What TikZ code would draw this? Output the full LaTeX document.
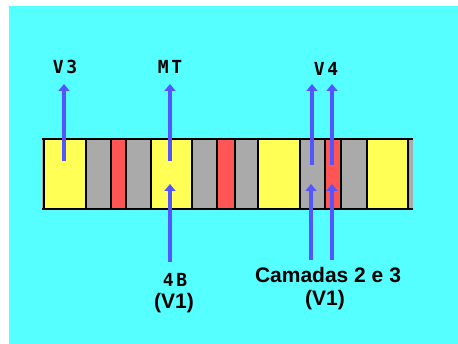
\documentclass[tikz,border=0pt]{standalone}
\usepackage{fontspec}
\setmainfont{Liberation Sans}
\newfontfamily\monob[LetterSpace=15]{DejaVu Sans Mono}
\usetikzlibrary{arrows.meta}
\definecolor{bgcyan}{HTML}{55FFFF}
\definecolor{styel}{HTML}{FFFF55}
\definecolor{stgray}{HTML}{AAAAAA}
\definecolor{stred}{HTML}{FF5555}
\definecolor{arrblue}{HTML}{5555FF}
\tikzset{
  stripe/.style={draw=black, line width=1.2pt},
  uparrow/.style={draw=arrblue, line width=3.2pt, -{Triangle[width=11pt,length=7pt]}},
  monolab/.style={font=\monob\bfseries\fontsize{18}{18}\selectfont, inner sep=0pt},
  sanslab/.style={font=\bfseries\fontsize{21}{23}\selectfont, inner sep=0pt, align=center},
}
\begin{document}
\begin{tikzpicture}[x=1pt,y=-1pt]
\useasboundingbox (0,0) rectangle (458,344);
\fill[white] (0,0) rectangle (458,344);
\fill[bgcyan] (9,6) rectangle (458,344);
% stripes
\foreach \a/\b/\c in {42/44/stgray,44/86/styel,86/111/stgray,111/126/stred,126/151/stgray,151/192/styel,192/217/stgray,217/235/stred,235/258/stgray,258/300/styel,300/325/stgray,325/341/stred,341/367/stgray,367/408/styel,408/413/stgray}{
  \fill[\c] (\a,139) rectangle (\b,209);
}
\foreach \x in {44,86,111,126,151,192,217,235,258,300,325,341,367,408}{
  \draw[stripe] (\x,139) -- (\x,209);
}
\draw[stripe] (42,139) -- (413,139);
\draw[stripe] (42,209) -- (413,209);
% labels
\node[monolab] (v3) at (65,67) {V3};
\node[monolab] (mt) at (170,67) {MT};
\node[monolab] (v4) at (326,69) {V4};
\node[monolab] (b4) at (175,280) {4B};
\node[sanslab] (v1a) at (174,303) {(V1)};
\node[sanslab] (cam) at (328,275) {Camadas 2 e 3};
\node[sanslab] (v1b) at (325,300) {(V1)};
% arrow coordinates
\coordinate (s1) at (64,161);  \coordinate (t1) at (64,84);
\coordinate (s2) at (170,161); \coordinate (t2) at (170,84);
\coordinate (s3) at (312,165); \coordinate (t3) at (312,84);
\coordinate (s4) at (332,165); \coordinate (t4) at (332,84);
\coordinate (s5) at (170,262); \coordinate (t5) at (170,184);
\coordinate (s6) at (311,260); \coordinate (t6) at (311,184);
\coordinate (s7) at (332,260); \coordinate (t7) at (332,184);
\foreach \i in {1,...,7}{
  \draw[uparrow] (s\i) -- (t\i);
}
\end{tikzpicture}
\end{document}
